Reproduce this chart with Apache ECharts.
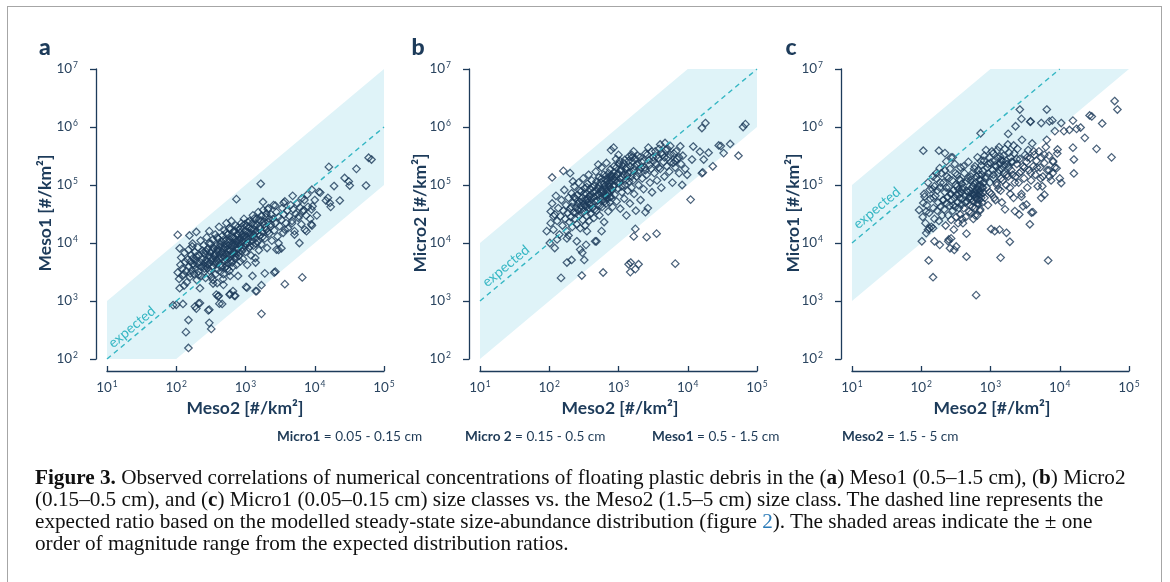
<!DOCTYPE html>
<html><head><meta charset="utf-8">
<script src="https://cdn.jsdelivr.net/npm/echarts@6/dist/echarts.min.js"></script>
<style>
html,body{margin:0;padding:0;background:#fff;width:1170px;height:582px;overflow:hidden;}
#frame{position:absolute;left:7px;top:6px;width:1155px;height:620px;border:1.5px solid #a6a6a6;border-bottom:none;box-sizing:border-box;}
#chart{position:absolute;left:0;top:0;width:1170px;height:582px;}
.lg{position:absolute;top:428px;font-family:Lato,'Noto Sans',sans-serif;font-size:13.6px;color:#1e3a56;white-space:nowrap;}
.lg b{font-weight:700;}
#caption{position:absolute;left:35px;top:466px;font-family:'Liberation Serif','DejaVu Serif',serif;font-size:18px;line-height:22px;color:#111;white-space:nowrap;}
#caption b{font-weight:700;}
#caption .lk{color:#2a7ab8;}
</style></head>
<body>
<div id="frame"></div>
<div id="chart"></div>
<div class="lg" style="left:277px"><b>Micro1</b> = 0.05 - 0.15 cm</div>
<div class="lg" style="left:465px"><b>Micro 2</b> = 0.15 - 0.5 cm</div>
<div class="lg" style="left:652px"><b>Meso1</b> = 0.5 - 1.5 cm</div>
<div class="lg" style="left:842px"><b>Meso2</b> = 1.5 - 5 cm</div>
<div id="caption">
<div id="l1"><b>Figure 3.</b> Observed correlations of numerical concentrations of floating plastic debris in the (<b>a</b>) Meso1 (0.5–1.5 cm), (<b>b</b>) Micro2</div>
<div>(0.15–0.5 cm), and (<b>c</b>) Micro1 (0.05–0.15 cm) size classes vs. the Meso2 (1.5–5 cm) size class. The dashed line represents the</div>
<div>expected ratio based on the modelled steady-state size-abundance distribution (figure <span class="lk">2</span>). The shaded areas indicate the ± one</div>
<div>order of magnitude range from the expected distribution ratios.</div>
</div>
<script>
// ---- data (Meso2 on x, other size class on y) ----
const panelLetters = ['a', 'b', 'c'];
const xNames = ['Meso2 [#/km²]', 'Meso2 [#/km²]', 'Meso2 [#/km²]'];
const yNames = ['Meso1 [#/km²]', 'Micro2 [#/km²]', 'Micro1 [#/km²]'];
const xTicks = [10, 100, 1000, 10000, 100000];
const yTicks = [100, 1000, 10000, 100000, 1000000, 10000000];

const expectedA = [[10, 100], [100000, 1000000]];
const expectedB = [[10, 1000], [100000, 10000000]];
const expectedC = [[10, 10000], [10000, 10000000]];

const bandA = [[10, 100], [10, 1000], [100000, 10000000], [100000, 100000], [100, 100]];
const bandB = [[10, 100], [10, 10000], [10000, 10000000], [100000, 10000000], [100000, 1000000]];
const bandC = [[10, 1000], [10, 100000], [1000, 10000000], [100000, 10000000]];

const pointsA = [
[150,155],[138,290],[150,470],[300,420],[320,330],[290,690],[125,890],[90,850],[100,860],[1700,600],
[3700,1950],[6600,2550],[2600,3100],[1400,1480],[1700,1870],[1020,1750],[420,900],[195,740],[220,920],[400,1200],
[690,1230],[590,1290],[660,1480],[105,13800],[112,8100],[155,13500],[195,15500],[170,8700],[740,57000],[1660,105000],
[1790,51000],[16000,205000],[40000,190000],[60000,295000],[66000,275000],[55000,98000],[32000,98000],[31000,115000],[27000,132000],[23000,54000],
[19000,96000],[17000,42000],[15500,60000],[14500,54000],[16500,49000],[11500,76000],[9300,43000],[8900,21000],[7600,16000],[6000,10000],
[2800,7700],[3000,10000],[1400,4600],[340,2000],[380,1290],[112,1660],[130,1850],[220,1660],[123,2700],
[12000,74000],[9100,83000],[10000,55000],[7800,68000],[6500,59000],[4800,65000],[3550,49000],[2700,44000],[2100,38000],[10700,30000],
[9100,20000],[7200,17000],[5100,16000],[3700,17000],[4700,22000],[5900,29000],[6900,37000],[300,710],[1050,1700],[1450,1480],
[1260,2700],[1900,3000],[2700,3200],[600,1320],[710,1230],[410,1230],[460,890],[186,800],[210,910],[390,2040],
[480,1900],[3000,7600],[3300,8100],
[105,3100],[110,2400],[115,4200],[118,5600],[122,3600],[128,2900],[132,6800],[135,4700],[140,3300],[142,2100],
[146,5200],[150,7600],[152,3900],[158,2600],[160,4800],[165,6200],[168,3400],[172,9800],[175,5500],[180,2900],
[182,4100],[186,7000],[190,3600],[195,5900],[198,2300],[200,4400],
[205,8400],[210,3200],[215,6100],[220,4700],[225,11000],[230,2700],[235,5300],[240,7400],[245,3900],[250,9200],
[255,4500],[260,6500],[265,2500],[270,5100],[275,12500],[280,3700],[285,7900],[290,4300],[295,5800],[300,16000],
[305,3300],[310,6900],[315,9800],[320,4900],[325,2600],[330,7300],[335,5400],[340,11500],[345,3900],[350,8200],
[355,6000],[360,4400],[365,14000],[370,2900],[375,6700],[380,9000],[385,5100],[390,3500],[395,7800],[400,12000],
[410,4600],[415,19000],[420,6300],[430,8700],[435,3200],[440,5600],[450,10500],[455,7100],[460,4100],[470,13500],
[475,2400],[480,8000],[490,5900],[495,16500],[500,9500],[510,3800],[515,6800],[520,11000],[530,22000],[535,5200],
[540,7700],[550,14000],[555,4500],[560,9000],[570,6100],[580,18000],[585,3300],[590,11500],[600,7400],[610,5000],
[620,13000],[625,24000],[630,8600],[640,6200],[650,10000],[660,3900],[670,15500],[680,7000],[690,12000],[700,5400],
[710,9400],[720,20000],[730,6600],[740,4200],[750,11000],[760,8000],[770,14500],[780,2700],[790,9800],
[800,6000],[820,17000],[830,12000],[840,4800],[850,8800],[870,22000],[880,10500],[890,7200],[900,14000],[920,5300],
[940,11800],[950,26000],[960,9000],[980,16000],[1000,7000],[1020,12500],[1040,19500],[1060,4200],[1080,10000],[1100,15000],
[1120,8200],[1150,24000],[1170,13000],[1200,6100],[1220,17500],[1250,11000],[1280,30000],[1300,9000],[1320,14000],[1350,20000],
[1380,5500],[1400,12000],[1430,26000],[1460,16000],[1500,10500],[1530,34000],[1560,7500],[1590,19000],
[1620,13500],[1650,24000],[1700,9500],[1750,15500],[1800,37000],[1850,21000],[1900,12000],[1950,28000],[2000,17000],[2050,8200],
[2100,23000],[2150,40000],[2200,14500],[2300,19000],[2350,31000],[2400,11000],[2500,26000],[2550,45000],[2600,16500],[2700,22000],
[2800,34000],[2900,13000],[3000,28000],[3100,19500],
[3300,25000],[3400,40000],[3500,15000],[3600,31000],[3700,52000],[3850,22000],[4000,36000],[4100,18000],[4300,29000],[4500,45000],
[4700,24000],[4900,38000],[5100,14000],[5300,32000],[5600,48000],[5800,27000],[6100,41000],[6400,21000],[6800,35000],[7100,55000],
[7500,30000],[8000,42000],[8600,26000],[9000,38000],
[255,3600],[268,7200],[282,4800],[296,9800],[312,5600],[328,3900],[342,8100],[358,6400],[372,4700],[388,12500],
[402,7000],[418,5200],[432,9600],[448,3800],[462,6600],[478,11200],[492,4900],[508,8300],[522,14800],[538,6300],
[552,3600],[568,10200],[582,7600],[598,5700],[612,17500],[628,9100],[642,4600],[658,12200],[672,6900],[688,8900],
[702,16200],[718,5900],[732,10600],[748,7500],[762,13800],[778,18500],[792,6800],[812,11200],[835,15000],[860,9600],
[885,19000],[910,12800],[935,8000],[965,21000],[990,13600],[1015,9400],[1045,15800],[1075,23000],[1105,11600],[1135,18200],
[1165,8800],[1195,14800],[1230,21500],[1265,12600],[1300,17200],[1340,26500],[1380,15200],[1420,9800],[1470,20500],[1520,14200],
[1570,25500],[1630,17800],[1700,29500],[1770,12800],[1840,23500],[1920,18200],[2000,32000],[2100,15800],[2200,26500],[2320,21000],
[160,3000],[175,4300],[190,5000],[210,2800],[230,3900],[245,6800],[262,4000],[300,2900],[340,2300],[480,2900],
[530,4000],[600,2700]
];

const pointsB = [
[68000,1120000],[63000,1000000],[18000,1170000],[16000,960000],[54000,320000],[41000,510000],[33000,355000],[28000,480000],[30000,470000],[23000,210000],
[20000,360000],[16000,160000],[16500,165000],[17000,275000],[11000,56000],[9800,150000],[11500,275000],[8300,100000],[6600,4400],[6600,260000],
[7800,465000],[3550,14500],[2550,12600],[2450,34000],[1660,13000],[1750,17500],[1950,4300],[1750,3550],[1480,3150],[1400,4300],
[1500,4600],[600,3100],[295,2750],[148,2500],[180,4600],[210,5100],[320,5100],[280,7700],[300,6800],[340,9300],
[250,10700],[350,16000],[460,10700],[480,10700],[570,16000],[102,10000],[92,16000],[130,11500],[120,8200],[180,12000],
[190,13500],[110,135000],[160,175000],[220,115000],[200,160000],[105,35000],[115,29000],[850,440000],[780,400000],[1050,260000],
[1550,330000],[1650,380000],[510,225000],[2700,440000],[4000,500000],[4700,530000],[5600,470000],[12000,460000],[15000,375000],
[105,22000],[110,48000],[115,17000],[120,31000],[125,65000],[130,24000],[135,40000],[140,14000],[145,29000],[150,55000],
[155,20000],[160,36000],[165,82000],[170,26000],[175,45000],[180,16000],[185,33000],[190,60000],[195,23000],[200,39000],
[205,28000],[210,72000],[215,19000],[220,50000],[225,34000],[230,95000],[235,26000],[240,58000],[245,41000],[250,21000],
[255,67000],[260,37000],[265,110000],[270,30000],[275,52000],[280,18000],[285,44000],[290,78000],[295,33000],[300,60000],
[305,25000],[310,130000],[315,47000],[320,36000],[325,88000],[330,20000],[335,55000],[340,42000],[345,70000],[350,29000],
[355,105000],[360,50000],[365,38000],[370,150000],[375,24000],[380,64000],[385,46000],[390,85000],[395,32000],
[400,56000],[410,120000],[420,40000],[430,75000],[440,27000],[450,98000],[460,52000],[470,170000],[480,36000],[490,66000],
[500,88000],[510,45000],[520,135000],[530,30000],[540,60000],[550,110000],[560,72000],[570,200000],[580,42000],[590,82000],
[600,55000],[610,150000],[620,23000],[630,95000],[640,65000],[650,125000],[660,48000],[670,240000],[680,80000],[690,58000],
[700,105000],[710,35000],[720,160000],[730,70000],[740,92000],[750,50000],[760,185000],[770,120000],[780,62000],[790,85000],
[800,140000],[820,42000],[840,95000],[860,210000],[880,68000],[900,120000],[920,280000],[940,52000],[960,150000],[980,88000],
[1000,330000],[1030,110000],[1060,39000],[1090,175000],[1120,75000],[1150,135000],[1180,240000],[1210,58000],[1240,100000],[1270,190000],
[1300,30000],[1330,145000],[1360,80000],[1400,260000],[1430,115000],[1460,48000],[1500,165000],[1540,90000],[1580,300000],
[1620,120000],[1680,70000],[1720,210000],[1780,36000],[1830,140000],[1900,320000],[1950,100000],[2000,180000],[2080,55000],[2150,250000],
[2200,130000],[2300,85000],[2400,200000],[2450,350000],[2550,150000],[2650,40000],[2750,270000],[2850,110000],[2950,190000],[3050,75000],
[3150,300000],
[3300,160000],[3400,380000],[3500,230000],[3600,120000],[3750,290000],[3850,420000],[4000,190000],[4150,90000],[4300,330000],[4450,250000],
[4600,140000],[4800,400000],[5000,210000],[5200,300000],[5400,170000],[5700,250000],[6000,110000],[6300,350000],[6600,200000],[7000,280000],
[7500,160000],[8000,230000],[8500,320000],[9200,190000],
[210,42000],[228,62000],[242,33000],[258,48000],[272,80000],[288,38000],[302,52000],[318,70000],[332,44000],[348,92000],
[362,58000],[378,40000],[392,66000],[408,48000],[422,90000],[438,62000],[452,38000],[468,78000],[482,115000],[498,54000],
[512,70000],[528,98000],[542,44000],[558,82000],[572,130000],[588,60000],[602,76000],[618,105000],[632,52000],[648,88000],
[662,145000],[678,66000],[692,118000],[708,74000],[722,95000],[738,135000],[752,62000],[768,108000],[785,150000],[805,82000],
[830,125000],[855,165000],[880,98000],[905,140000],[930,200000],[955,112000],[985,160000],[1015,230000],[1045,130000],[1080,185000],
[1115,95000],[1150,210000],[1190,150000],[1230,270000],[1270,120000],[1320,200000],[1370,160000],[1420,310000],[1480,210000],[1540,140000],
[1600,250000],[1680,180000],[1760,280000],[1850,230000],[1950,160000],[2050,300000],[2150,200000],[2300,260000],[2450,180000],[2600,330000],
[2800,220000],[3000,380000],[3200,260000],[3500,310000],[3800,200000],[4200,360000],[4600,300000],[5100,420000],[5600,330000],[6200,240000],
[6800,380000],[7500,300000]
];

const pointsC = [
[620,1260],[148,2570],[128,5000],[102,10700],[450,5800],[1400,5600],[6800,5000],[93,37000],[107,390000],[180,390000],
[220,355000],[720,780000],[2650,2000000],[2800,1380000],[2300,1030000],[1800,760000],[6500,2000000],[3800,1250000],[3750,1230000],[5400,1170000],
[7100,1250000],[7800,1300000],[6500,600000],[8500,850000],[10500,1170000],[15500,1290000],[11500,850000],[13800,890000],[17500,930000],[20000,980000],
[23000,650000],[27000,1580000],[29000,1520000],[41000,1150000],[62000,2800000],[68000,2000000],[56000,300000],[34000,420000],[16000,158000],[16000,275000],
[15500,440000],[10000,130000],[10500,108000],[9000,195000],[9300,410000],[7100,140000],[7900,160000],[6000,68000],[5400,60000],[5600,95000],
[4100,34000],[3900,33500],[3700,21000],[2950,43000],[3300,46000],[2800,63000],[2600,31000],[2250,35500],[1700,15000],[1900,10500],
[1350,17000],[1020,17400],[1150,16000],[450,14500],[400,22000],[300,7600],[320,8700],[260,8100],[245,10700],[250,11500],
[270,12000],[185,9300],[155,10700],[118,14800],[125,17000],[132,18000],[148,18000],[118,35000],[107,49000],[112,63000],
[132,83000],[155,95000],[148,140000],[165,160000],[185,195000],[220,180000],[230,255000],[270,300000],[285,300000],
[105,28000],[110,70000],[115,22000],[120,45000],[125,110000],[130,33000],[135,58000],[140,19000],[145,85000],[150,40000],
[155,26000],[160,65000],[165,130000],[170,36000],[175,50000],[180,24000],[185,90000],[190,42000],[195,160000],[200,30000],
[205,55000],[210,110000],[215,38000],[220,75000],[225,20000],[230,48000],[235,140000],[240,62000],[245,30000],[250,92000],
[255,44000],[260,190000],[265,70000],[270,25000],[275,55000],[280,120000],[285,36000],[290,80000],[295,17000],[300,60000],
[305,230000],[310,42000],[315,100000],[320,28000],[325,68000],[330,150000],[335,50000],[340,22000],[345,85000],[350,40000],
[355,125000],[360,60000],[365,31000],[370,200000],[375,75000],[380,46000],[385,105000],[390,26000],[395,58000],
[400,90000],[410,40000],[420,160000],[430,65000],[440,28000],[450,115000],[460,52000],[470,75000],[480,250000],[490,35000],
[500,62000],[510,80000],[520,140000],[530,58000],[540,70000],[550,42000],[560,95000],[570,66000],[580,190000],[590,75000],
[600,30000],[610,60000],[620,110000],[630,72000],[640,48000],[650,300000],[660,65000],[670,85000],[680,150000],[690,55000],
[700,78000],[710,38000],[720,120000],[730,68000],[740,220000],[750,90000],[760,50000],[770,175000],[780,73000],[790,110000],
[800,260000],[820,60000],[840,130000],[860,400000],[880,90000],[900,200000],[920,45000],[940,160000],[960,300000],[980,110000],
[1000,240000],[1030,70000],[1060,180000],[1090,350000],[1120,130000],[1150,260000],[1180,55000],[1210,210000],[1240,100000],[1270,290000],
[1300,160000],[1330,450000],[1360,230000],[1400,80000],[1430,270000],[1460,190000],[1500,120000],[1540,320000],[1580,220000],
[1620,38000],[1680,260000],[1720,150000],[1780,500000],[1830,200000],[1900,90000],[1950,300000],[2000,180000],[2080,250000],[2150,60000],
[2200,350000],[2300,140000],[2400,230000],[2450,420000],[2550,110000],[2650,280000],[2750,170000],[2850,600000],[2950,210000],[3050,130000],
[3150,330000],
[3300,250000],[3400,90000],[3500,400000],[3600,180000],[3750,290000],[3850,120000],[4000,520000],[4150,210000],[4300,330000],[4450,150000],
[4600,260000],[4800,95000],[5000,380000],[5200,200000],[5400,300000],[5700,140000],[6000,240000],[6300,450000],[6600,180000],[7000,320000],
[7500,120000],[8000,260000],[8500,200000],[9200,350000],
[150,60000],[170,80000],[190,110000],[210,55000],[230,90000],[250,130000],[270,70000],[290,45000],[310,160000],[330,95000],
[350,70000],[370,120000],[390,85000],[410,210000],[430,50000],[450,80000],[470,130000],[490,60000],
[505,45000],[515,120000],[525,33000],[535,90000],[545,160000],[555,52000],[565,26000],[575,105000],[585,68000],[595,210000],
[605,40000],[615,82000],[625,140000],[635,56000],[645,30000],[655,96000],[665,180000],[675,47000],[685,72000],[695,125000],
[705,36000],[715,100000],[725,260000],[735,60000],[750,150000],
[780,90000],[820,320000],[870,140000],[920,230000],[970,75000],[1050,380000],[1100,150000],[1130,60000],[1170,220000],[1220,110000],
[1260,400000],[1300,85000],[1340,180000],[1380,310000],[1420,130000],[1460,50000],[1500,260000],[1560,160000],[1620,420000],[1680,100000],
[1740,230000],[1800,140000],[1860,360000],[1930,70000],[2000,250000],[2080,150000],[2160,480000],[2250,110000],[2400,280000],[2600,160000],
[2800,70000],[3100,200000],[3400,300000],[3800,160000],[4200,380000],[4700,200000],[5300,130000],[6000,330000],[7000,180000],[8000,250000]
];

// ---- chart ----
const navy = '#1d3b5a';
const tickColor = '#2b4560';
const gridLefts = [107, 480, 852];
const gridW = 277, gridTop = 69, gridH = 290;
const bands = [bandA, bandB, bandC];
const expecteds = [expectedA, expectedB, expectedC];
const points = [pointsA, pointsB, pointsC];

function lbl(v) {
  const e = Math.round(Math.log10(v));
  return '{b|10}{s|' + e + '}';
}
const rich = {
  b: { fontSize: 13.5, color: tickColor, fontFamily: 'Lato', lineHeight: 16 },
  s: { fontSize: 8.5, color: tickColor, fontFamily: 'Lato', verticalAlign: 'top', lineHeight: 16, padding: [0, 0, 0, 1] }
};

const grids = [], xAxes = [], yAxes = [], series = [], graphics = [];
for (let i = 0; i < 3; i++) {
  grids.push({ left: gridLefts[i], top: gridTop, width: gridW, height: gridH });
  xAxes.push({
    gridIndex: i, type: 'log', logBase: 10, min: xTicks[0], max: xTicks[xTicks.length - 1], interval: 1,
    offset: 12,
    axisLine: { lineStyle: { color: navy, width: 1.3 } },
    axisTick: { inside: true, length: 5, lineStyle: { color: navy, width: 1.3 } },
    axisLabel: { formatter: lbl, rich: rich, margin: 9 },
    splitLine: { show: false }
  });
  yAxes.push({
    gridIndex: i, type: 'log', logBase: 10, min: yTicks[0], max: yTicks[yTicks.length - 1], interval: 1,
    offset: 11,
    axisLine: { lineStyle: { color: navy, width: 1.3 } },
    axisTick: { inside: false, length: 6, lineStyle: { color: navy, width: 1.3 } },
    axisLabel: { formatter: lbl, rich: rich, margin: 18 },
    splitLine: { show: false }
  });
  const band = bands[i];
  series.push({
    type: 'custom', xAxisIndex: i, yAxisIndex: i, z: 1, silent: true,
    data: band,
    renderItem: function (params, api) {
      if (params.dataIndex !== 0) return null;
      return { type: 'polygon', shape: { points: band.map(p => api.coord(p)) }, style: { fill: '#dff3f8' } };
    }
  });
  series.push({
    type: 'scatter', xAxisIndex: i, yAxisIndex: i, z: 3,
    data: points[i], symbol: 'diamond', symbolSize: 7.5,
    itemStyle: { color: 'rgba(255,255,255,0)', borderColor: navy, borderWidth: 1.25 }
  });
  series.push({
    type: 'line', xAxisIndex: i, yAxisIndex: i, z: 4, symbol: 'none',
    data: expecteds[i],
    lineStyle: { color: '#34b6c3', width: 1.4, type: [5, 4] }
  });
}

const letterX = [45, 418, 791];
const yNameX = [45, 420, 793];
const xNameX = [245, 620, 992];
const expPos = [[132, 327], [506, 266], [877, 208]];
for (let i = 0; i < 3; i++) {
  graphics.push({ type: 'text', x: letterX[i], y: 48, style: { text: panelLetters[i], font: '900 23px Lato', fill: navy, align: 'center', verticalAlign: 'middle' } });
  graphics.push({ type: 'text', x: yNameX[i], y: 213, rotation: Math.PI / 2, style: { text: yNames[i], font: 'bold 17.5px Lato', fill: navy, align: 'center', verticalAlign: 'middle' } });
  graphics.push({ type: 'text', x: xNameX[i], y: 408, style: { text: xNames[i], font: 'bold 17.5px Lato', fill: navy, align: 'center', verticalAlign: 'middle' } });
  graphics.push({ type: 'text', x: expPos[i][0], y: expPos[i][1], rotation: Math.atan(58 / 69.25), z: 10, style: { text: 'expected', font: '14px Lato', fill: '#34b6c3', align: 'center', verticalAlign: 'middle' } });
}

const chart = echarts.init(document.getElementById('chart'), null, { renderer: 'canvas' });
chart.setOption({
  animation: false,
  grid: grids, xAxis: xAxes, yAxis: yAxes, series: series, graphic: graphics
});

// fit caption width to the reference line length
const l1 = document.getElementById('l1');
const w = l1.getBoundingClientRect().width;
if (w > 0) {
  const fs = 18 * 1091 / w;
  document.getElementById('caption').style.fontSize = fs.toFixed(2) + 'px';
}
</script>
</body></html>
